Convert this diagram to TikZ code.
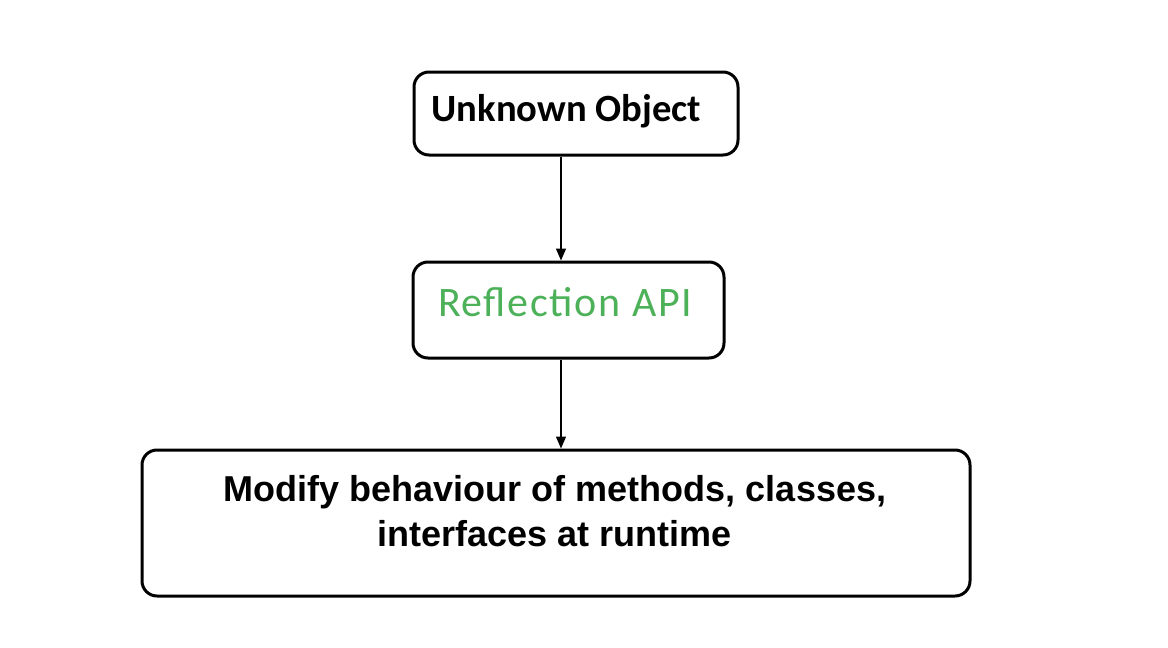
\documentclass[tikz,border=0pt]{standalone}
\usepackage{fontspec}
\newfontfamily\calfont{Carlito}
\newfontfamily\calwide{Carlito}[LetterSpace=4]
\newfontfamily\arialfont{Liberation Sans}
\usetikzlibrary{arrows.meta}
\definecolor{apigreen}{RGB}{77,177,89}
\begin{document}
\begin{tikzpicture}[x=1pt,y=-1pt,
    box/.style={draw,line width=3pt,rounded corners=15pt,inner sep=0pt},
    flow/.style={line width=1.5pt,-{Triangle[width=10pt,length=12pt]}}]
  \useasboundingbox (0,0) rectangle (1168,648);
  % Boxes
  \node[box,minimum width=324pt,minimum height=83pt] (obj) at (576,113.5) {};
  \node[box,minimum width=311pt,minimum height=96pt] (refl) at (568.5,310) {};
  \node[box,minimum width=828pt,minimum height=146pt] (mod) at (556,523) {};

  % Texts
  \node[anchor=base,font=\calfont\bfseries\fontsize{38.6}{44}\selectfont] (objtext) at (566.5,121) {Unknown Object};
  \node[anchor=base,text=apigreen,font=\calwide\fontsize{42}{46}\selectfont] (refltext) at (565,316) {Reflection API};
  \node[anchor=base,align=center,font=\arialfont\bfseries\fontsize{36}{45}\selectfont] (modtext) at (555,546) {Modify behaviour of methods, classes,\\interfaces at runtime};

  % Connectors
  \coordinate (spine) at (561,0);
  \draw[flow] (obj.south -| spine) -- (refl.north -| spine);
  \draw[flow] (refl.south -| spine) -- (mod.north -| spine);
\end{tikzpicture}
\end{document}
